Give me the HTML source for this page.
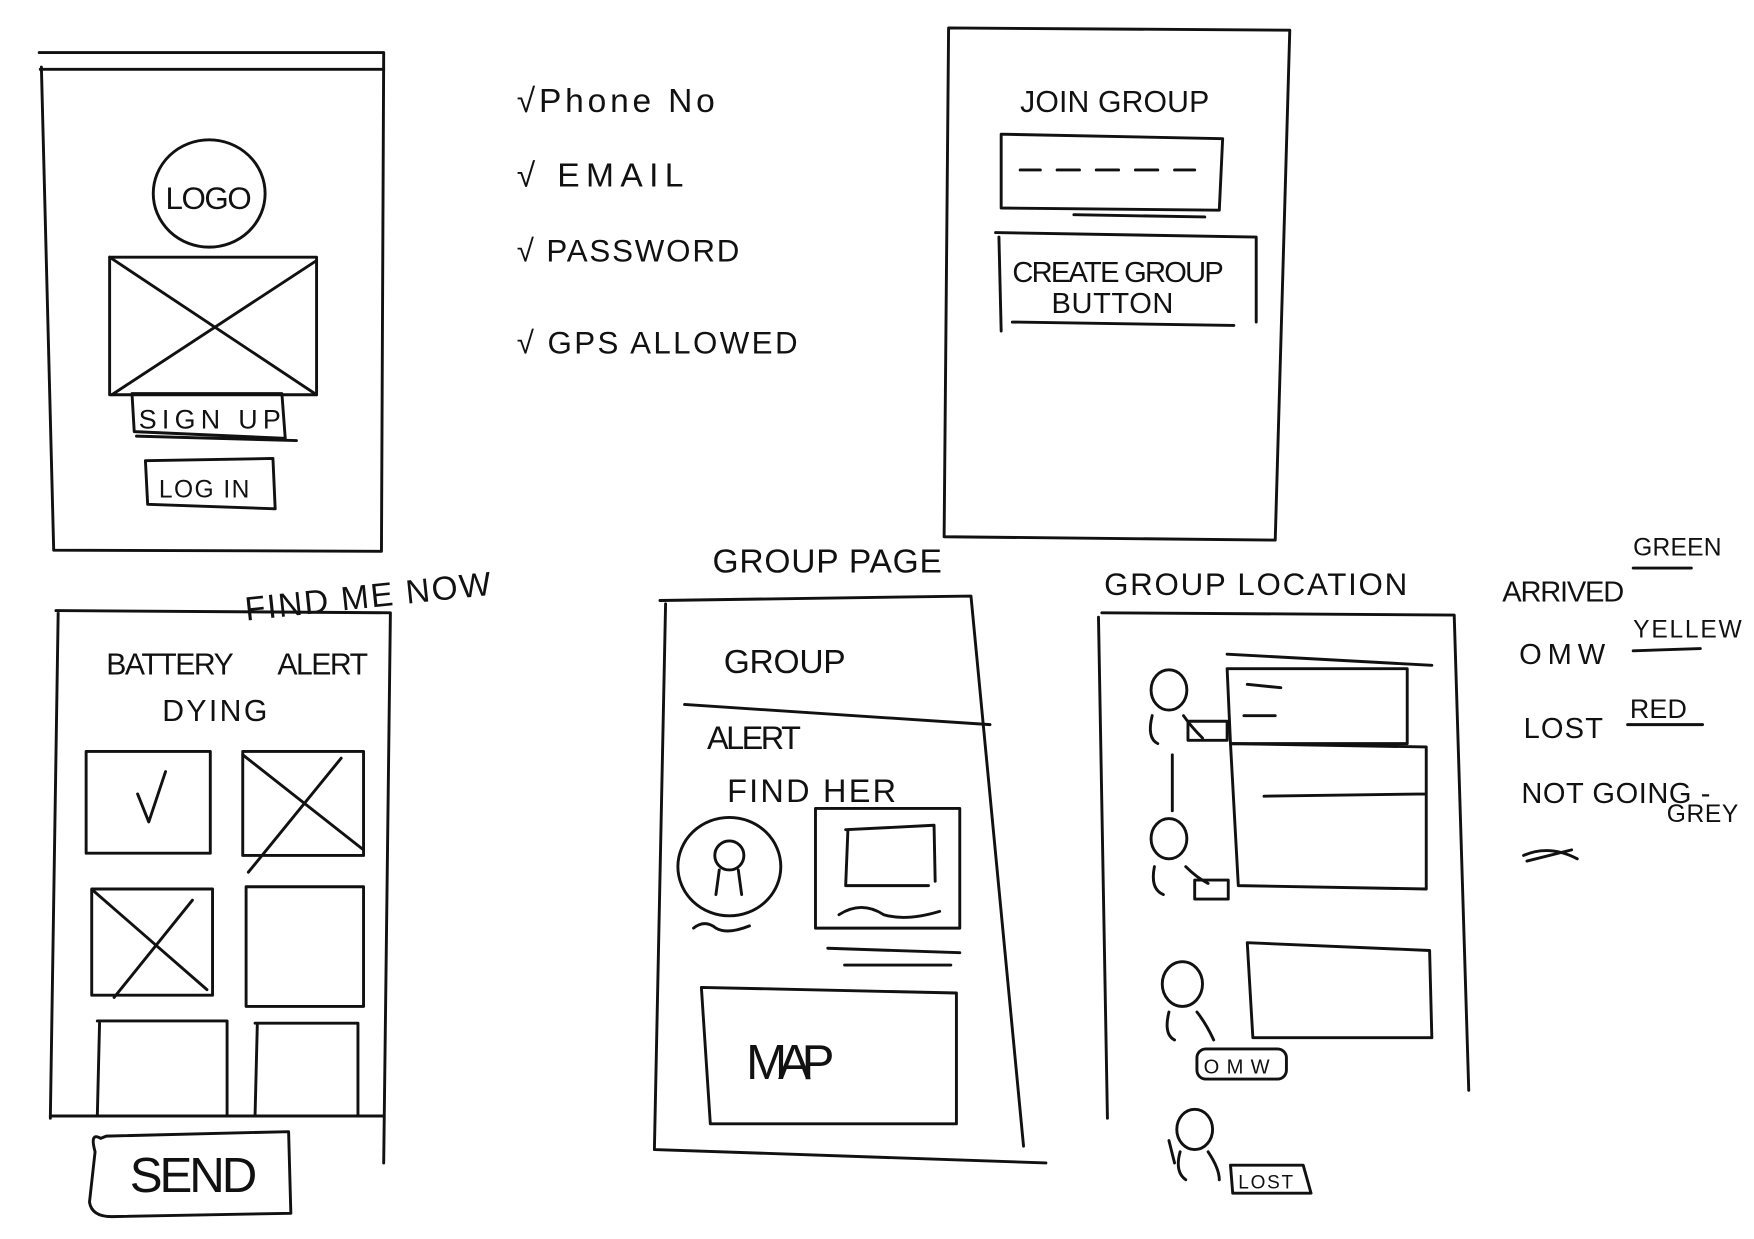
<!DOCTYPE html>
<html><head><meta charset="utf-8"><style>
html,body{margin:0;padding:0;background:#fff;}
svg{display:block}
text{font-family:"Liberation Sans",sans-serif;fill:#111;letter-spacing:1px}
</style></head><body>
<svg width="1754" height="1239" viewBox="0 0 1568 1108" preserveAspectRatio="none" xmlns="http://www.w3.org/2000/svg">
<rect width="1568" height="1108" fill="#fff"/>
<g fill="none" stroke="#111" stroke-width="2.6" stroke-linecap="round" stroke-linejoin="round">
<!-- Screen 1 -->
<path d="M35 47 L343 47 L341 493 L48 492 L37 60"/>
<path d="M36 62 L343 62"/>
<ellipse cx="187" cy="173" rx="50" ry="48"/>
<rect x="98" y="230" width="185" height="123"/>
<path d="M98 230 L283 353 M283 233 L100 353"/>
<path d="M118 352 L252 352 L255 392 L120 386 Z M122 390 L265 394"/>
<path d="M130 412 L244 410 L246 455 L132 451 Z"/>
<!-- Screen 2 -->
<path d="M848 25 L1153 27 L1140 483 L844 480 Z"/>
<path d="M895 120 L1093 124 L1090 188 L895 186 Z M960 192 L1077 194"/>
<path d="M912 152 L930 152 M945 152 L965 152 M980 152 L1000 152 M1015 152 L1035 152 M1050 152 L1068 152"/>
<path d="M890 208 L1123 212 L1123 288 M893 212 L895 296 M905 288 L1103 291"/>
<!-- Screen 3 -->
<path d="M50 546 L349 548 L343 1040 M52 548 L45 1000"/>
<path d="M45 998 L343 998"/>
<rect x="77" y="672" width="111" height="91"/>
<path d="M123 710 L133 735 L148 690"/>
<rect x="217" y="672" width="108" height="93"/>
<path d="M217 675 L325 760 M305 678 L222 780"/>
<rect x="82" y="795" width="108" height="95"/>
<path d="M84 797 L185 885 M172 805 L102 892"/>
<rect x="220" y="793" width="105" height="107"/>
<path d="M87 913 L203 913 L203 998 M89 915 L87 998"/>
<path d="M228 915 L320 915 L320 998 M230 917 L228 998"/>
<path d="M90 1018 Q80 1012 85 1030 L80 1075 Q82 1088 100 1088 L260 1085 L258 1012 L95 1016 Z"/>
<!-- Screen 4 -->
<path d="M590 537 L868 533 L915 1025 M595 540 L585 1028 L935 1040"/>
<path d="M612 630 L885 648"/>
<ellipse cx="652" cy="775" rx="46" ry="44"/>
<circle cx="652" cy="765" r="13"/>
<path d="M643 778 L640 800 M660 778 L663 800"/>
<path d="M620 830 Q630 822 640 830 Q650 836 670 828"/>
<rect x="729" y="723" width="129" height="107"/>
<path d="M756 742 L835 738 L836 788 M758 742 L756 792 L830 792"/>
<path d="M750 818 Q770 805 790 818 Q810 824 840 815"/>
<path d="M740 848 L858 852 M755 863 L850 863"/>
<path d="M627 883 L855 888 L855 1005 L635 1005 Z"/>
<!-- Screen 5 -->
<path d="M985 548 L1300 550 L1313 975 M982 552 L990 1000"/>
<path d="M1097 585 L1280 595 M1097 598 L1258 598 L1258 665 L1100 665 Z"/>
<path d="M1115 612 L1145 615 M1112 640 L1140 640"/>
<path d="M1100 665 L1275 668 L1275 795 L1107 792 Z M1130 712 L1275 710"/>
<path d="M1115 843 L1278 850 L1280 928 L1120 928 Z"/>
<ellipse cx="1045" cy="617" rx="16" ry="18"/>
<path d="M1030 640 Q1025 660 1035 665 M1058 640 Q1065 650 1075 660"/>
<path d="M1048 675 L1048 725"/>
<rect x="1062" y="645" width="35" height="17"/>
<ellipse cx="1045" cy="750" rx="16" ry="18"/>
<path d="M1032 775 Q1028 795 1040 800 M1060 775 Q1070 785 1080 790"/>
<rect x="1068" y="787" width="30" height="17"/>
<ellipse cx="1057" cy="880" rx="18" ry="20"/>
<path d="M1045 905 Q1040 925 1050 930 M1070 905 Q1078 915 1085 930"/>
<rect x="1070" y="938" width="80" height="27" rx="8"/>
<ellipse cx="1068" cy="1010" rx="16" ry="18"/>
<path d="M1055 1030 Q1050 1048 1060 1055 M1080 1030 Q1090 1045 1090 1055 M1045 1020 L1050 1040"/>
<path d="M1100 1042 L1165 1042 L1172 1067 L1102 1067 Z"/>
<!-- Legend underlines -->
<path d="M1460 508 L1512 508 M1460 582 L1520 580 M1455 648 L1522 648"/>
<path d="M1362 765 Q1385 755 1410 768 M1365 770 L1405 760"/>
</g>
<!-- Text -->
<text x="462" y="100" font-size="30" textLength="178">√Phone No</text>
<text x="462" y="167" font-size="30" textLength="150">√ EMAIL</text>
<text x="462" y="234" font-size="28" textLength="200">√ PASSWORD</text>
<text x="462" y="316" font-size="28" textLength="252">√ GPS ALLOWED</text>
<text x="148" y="187" font-size="28" textLength="78">LOGO</text>
<text x="124" y="383" font-size="24" textLength="128">SIGN UP</text>
<text x="142" y="445" font-size="22" textLength="82">LOG IN</text>
<text x="912" y="100" font-size="27" textLength="170">JOIN GROUP</text>
<text x="905" y="252" font-size="26" textLength="190">CREATE GROUP</text>
<text x="940" y="280" font-size="26" textLength="110">BUTTON</text>
<text x="220" y="555" font-size="30" transform="rotate(-6 220 555)" textLength="222">FIND ME NOW</text>
<text x="95" y="603" font-size="27" textLength="115">BATTERY</text>
<text x="248" y="603" font-size="27" textLength="82">ALERT</text>
<text x="145" y="645" font-size="27" textLength="95">DYING</text>
<text x="116" y="1066" font-size="44" textLength="115">SEND</text>
<text x="637" y="512" font-size="30" textLength="206">GROUP PAGE</text>
<text x="647" y="602" font-size="30" textLength="110">GROUP</text>
<text x="632" y="670" font-size="29" textLength="85">ALERT</text>
<text x="650" y="717" font-size="29" textLength="152">FIND HER</text>
<text x="667" y="965" font-size="44" textLength="80">MAP</text>
<text x="987" y="532" font-size="28" textLength="272">GROUP LOCATION</text>
<text x="1076" y="960" font-size="18" textLength="60">OMW</text>
<text x="1107" y="1063" font-size="17" textLength="50">LOST</text>
<text x="1343" y="538" font-size="26" textLength="110">ARRIVED</text>
<text x="1460" y="497" font-size="22" textLength="80">GREEN</text>
<text x="1358" y="594" font-size="26" textLength="78">OMW</text>
<text x="1460" y="570" font-size="22" textLength="98">YELLEW</text>
<text x="1362" y="660" font-size="26" textLength="72">LOST</text>
<text x="1457" y="642" font-size="24" textLength="52">RED</text>
<text x="1360" y="718" font-size="26" textLength="170">NOT GOING -</text>
<text x="1490" y="735" font-size="22" textLength="65">GREY</text>
</svg>
</body></html>
